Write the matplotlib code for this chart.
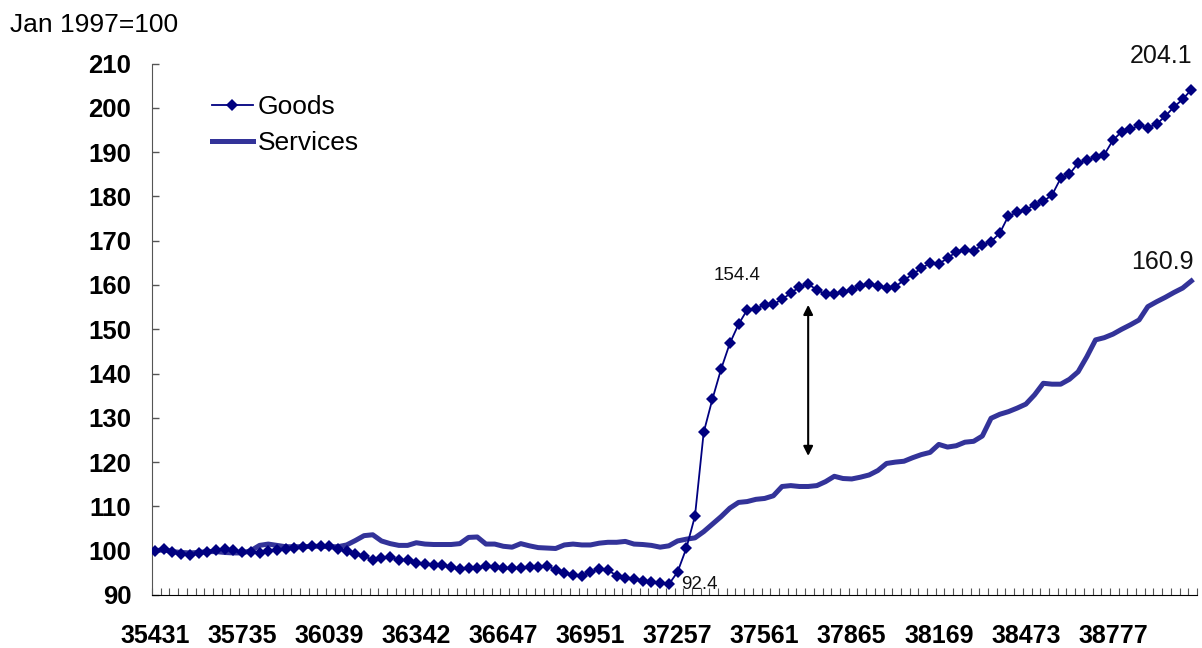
import numpy as np
import matplotlib
matplotlib.use("Agg")
import matplotlib.pyplot as plt

plt.rcParams['font.family'] = ['Liberation Sans', 'DejaVu Sans']

# monthly index, Jan 1997 = 100 (120 months)
goods = [100.0, 100.3, 99.6, 99.2, 99.0, 99.5, 99.6, 100.1, 100.3, 100.1,
         99.7, 99.7, 99.4, 99.9, 100.1, 100.3, 100.5, 100.8, 101.0, 101.1,
         101.1, 100.4, 99.9, 99.2, 98.7, 98.0, 98.3, 98.5, 98.0, 97.8,
         97.2, 97.0, 96.8, 96.8, 96.3, 95.9, 96.1, 96.1, 96.5, 96.3,
         96.0, 96.0, 96.2, 96.3, 96.3, 96.6, 95.7, 95.0, 94.5, 94.3,
         95.2, 95.8, 95.6, 94.4, 93.8, 93.6, 93.2, 92.9, 92.7, 92.4,
         95.2, 100.5, 107.8, 126.7, 134.2, 141.0, 146.8, 151.1, 154.4, 154.6,
         155.5, 155.6, 156.8, 158.1, 159.6, 160.2, 158.9, 157.9, 157.9, 158.4,
         158.8, 159.8, 160.3, 159.8, 159.3, 159.6, 161.1, 162.4, 163.8, 164.9,
         164.8, 166.0, 167.5, 168.0, 167.7, 169.0, 169.8, 171.7, 175.6, 176.4,
         177.0, 178.1, 178.9, 180.3, 184.1, 185.0, 187.5, 188.2, 188.8, 189.4,
         192.7, 194.6, 195.1, 196.1, 195.5, 196.3, 198.1, 200.2, 201.9, 204.1]

services = [100.0, 100.2, 99.8, 99.6, 99.5, 99.6, 99.8, 99.8, 99.6, 99.5,
            99.5, 100.0, 101.2, 101.5, 101.2, 100.9, 100.9, 100.9, 101.0, 101.0,
            100.9, 100.9, 101.3, 102.3, 103.4, 103.6, 102.2, 101.6, 101.2, 101.2,
            101.8, 101.5, 101.4, 101.4, 101.4, 101.6, 103.0, 103.1, 101.5, 101.5,
            101.0, 100.8, 101.6, 101.1, 100.7, 100.6, 100.5, 101.3, 101.5, 101.3,
            101.3, 101.7, 101.9, 101.9, 102.1, 101.5, 101.4, 101.2, 100.8, 101.1,
            102.2, 102.6, 102.9, 104.3, 106.0, 107.7, 109.6, 110.9, 111.1, 111.6,
            111.8, 112.4, 114.5, 114.7, 114.5, 114.5, 114.7, 115.6, 116.8, 116.3,
            116.2, 116.6, 117.1, 118.1, 119.7, 120.0, 120.2, 121.0, 121.7, 122.2,
            124.0, 123.4, 123.7, 124.5, 124.7, 125.9, 129.9, 130.8, 131.4, 132.2,
            133.1, 135.2, 137.8, 137.6, 137.6, 138.7, 140.4, 143.8, 147.6, 148.1,
            148.9, 150.0, 151.0, 152.1, 155.1, 156.2, 157.2, 158.3, 159.3, 160.9]

# Excel date serials shown every 10 months
tick_labels = ['35431', '35735', '36039', '36342', '36647', '36951',
               '37257', '37561', '37865', '38169', '38473', '38777']

x = np.arange(len(goods))

fig = plt.figure(figsize=(12.02, 6.48), dpi=100)
ax = fig.add_axes([152 / 1202, 1 - 595 / 648, 1045 / 1202, 531.5 / 648])

ls, = ax.plot(x, services, color='#333399', lw=3.6, label='Services', zorder=2,
              solid_joinstyle='round')
lg, = ax.plot(x, goods, color='#000080', lw=1.3, marker='D', markersize=6.5,
              markeredgewidth=0, label='Goods', zorder=3)

# labels on selected points
ax.annotate('154.4', xy=(68, goods[68]), xytext=(-7, 25), textcoords='offset points',
            ha='center', va='center', fontsize=13.5, color='#111111')
ax.annotate('92.4', xy=(59, goods[59]), xytext=(9, 0), textcoords='offset points',
            ha='left', va='center', fontsize=13.5, color='#111111')
ax.annotate('204.1', xy=(119, goods[-1]), xytext=(1, 24), textcoords='offset points',
            ha='right', va='center', fontsize=18, color='#111111')
ax.annotate('160.9', xy=(119, services[-1]), xytext=(2, 14), textcoords='offset points',
            ha='right', va='center', fontsize=18, color='#111111')

# gap arrow
ax.annotate('', xy=(75, 155.5), xytext=(75, 121.4),
            arrowprops=dict(arrowstyle='<|-|>', color='black', lw=1.5,
                            mutation_scale=14, shrinkA=0, shrinkB=0))

ax.set_xlim(-0.35, 119.5)
ax.set_ylim(90, 210)
ax.set_yticks(np.arange(90, 211, 10))
ax.set_xticks(np.arange(0, len(tick_labels) * 10, 10))
ax.set_xticklabels(tick_labels)
ax.set_xticks(np.arange(0, 121) - 0.35, minor=True)

for s in ['top', 'right']:
    ax.spines[s].set_visible(False)
ax.spines['left'].set_color('#555555')
ax.spines['bottom'].set_color('black')

ax.tick_params(axis='y', direction='in', length=5, width=1, color='#555555',
               labelsize=18.5, pad=15)
ax.tick_params(axis='x', which='major', length=0, labelsize=18, pad=21)
ax.tick_params(axis='x', which='minor', direction='in', length=5, width=0.8,
               color='#555555')
for lab in ax.get_xticklabels() + ax.get_yticklabels():
    lab.set_fontweight('bold')

ax.legend([lg, ls], ['Goods', 'Services'], loc='upper left',
          bbox_to_anchor=(0.0574, 0.94), frameon=False, fontsize=19,
          handlelength=1.55, handletextpad=0.19, borderpad=0,
          borderaxespad=0, labelspacing=0.45)

fig.text(10 / 1202, 1 - 25 / 648, 'Jan 1997=100', fontsize=19, ha='left',
         va='center')

fig.savefig('out.png', dpi=100)
